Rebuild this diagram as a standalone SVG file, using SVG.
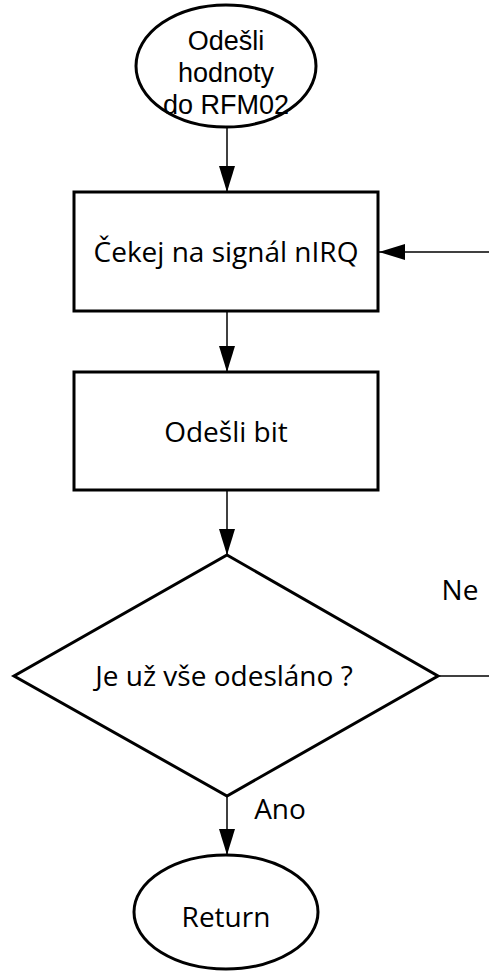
<svg xmlns="http://www.w3.org/2000/svg" width="489" height="974" viewBox="0 0 489 974">
<defs>
<marker id="ah" viewBox="0 0 26 16" refX="26" refY="8" markerWidth="26" markerHeight="16" markerUnits="userSpaceOnUse" orient="auto">
<path d="M0,0 L26,8 L0,16 z" fill="#000"/>
</marker>
<style>
.shape{fill:#fff;stroke:#000;stroke-width:3}
.conn{fill:none;stroke:#000;stroke-width:1.5}
text{font-family:"Open Sans","Noto Sans",sans-serif;font-size:28px;fill:#000;text-anchor:middle}
text.tight{font-family:"Liberation Sans",Arial,sans-serif;font-size:27px}
</style>
</defs>
<rect width="489" height="974" fill="#fff"/>
<g id="connectors">
<line class="conn" x1="227" y1="127" x2="227" y2="192" marker-end="url(#ah)"/>
<line class="conn" x1="227" y1="311" x2="227" y2="372" marker-end="url(#ah)"/>
<line class="conn" x1="227" y1="490" x2="227" y2="555" marker-end="url(#ah)"/>
<line class="conn" x1="227" y1="796" x2="227" y2="855" marker-end="url(#ah)"/>
<polyline class="conn" points="438,676 489,676"/>
<line class="conn" x1="489" y1="252" x2="379" y2="252" marker-end="url(#ah)"/>
<text x="460" y="600">Ne</text>
<text x="280" y="819">Ano</text>
</g>
<g id="start">
<ellipse class="shape" cx="226" cy="66" rx="90" ry="61"/>
<text class="tight" x="226" y="50">Odešli</text>
<text class="tight" x="226" y="82">hodnoty</text>
<text class="tight" x="226" y="114">do RFM02</text>
</g>
<g id="wait">
<rect class="shape" x="74" y="192" width="304" height="119"/>
<text x="226" y="262">Čekej na signál nIRQ</text>
</g>
<g id="send">
<rect class="shape" x="74" y="372" width="304" height="118"/>
<text x="226" y="442">Odešli bit</text>
</g>
<g id="decision">
<polygon class="shape" points="227,555 438,676 227,796 14,676"/>
<text x="224" y="686">Je už vše odesláno ?</text>
</g>
<g id="return">
<ellipse class="shape" cx="226" cy="912" rx="92" ry="57"/>
<text x="226" y="927">Return</text>
</g>
</svg>
